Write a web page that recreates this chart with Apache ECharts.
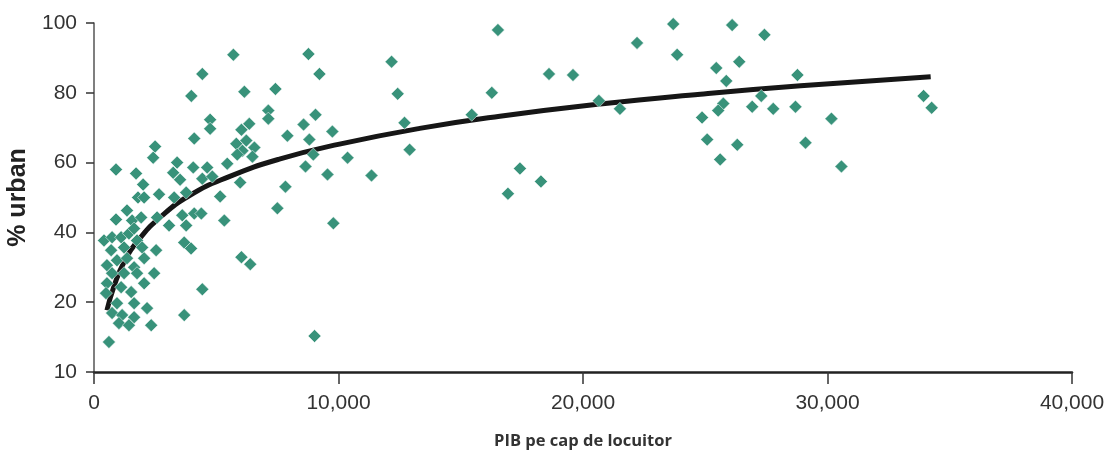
<!DOCTYPE html>
<html>
<head>
<meta charset="utf-8">
<script src="https://cdn.jsdelivr.net/npm/echarts@6/dist/echarts.min.js"></script>
<style>
html,body{margin:0;padding:0;background:#fff;}
#chart{width:1113px;height:452px;}
</style>
</head>
<body>
<div id="chart"></div>
<script>
// GDP per capita (x) and % urban (y) for each country point
const gdpValues = [
  2500,2420,900,1720,3400,3240,4060,3520,2010,1800,2050,2660,3280,3770,1350,900,1560,1930,2580,3070,
  3610,3770,410,740,1110,1430,1640,1760,700,1230,1970,2540,3690,3970,530,940,1350,1640,2050,740,
  1230,1760,2460,2050,530,1110,490,1520,940,1640,2170,740,1150,1640,1020,1430,2340,3690,610,3980,
  4100,
  5700,8770,4430,9220,6150,7420,7130,7130,4750,4750,6350,6030,9060,8570,9750,7910,8810,5820,6230,
  6560,6070,6480,5860,5450,4630,4430,4840,5980,7830,8650,9550,8970,10370,5160,7500,4100,4390,5330,
  9790,6030,6390,4430,9020,
  12170,12420,12700,12910,11350,16520,16270,15450,18610,19590,17420,18280,16930,20650,21510,22210,
  23690,26100,27420,23850,25450,26390,25860,28770,27290,25740,25530,26920,27780,28690,24870,30160,
  25080,26310,29100,25610,30570,33930,34260
];
const urbanValues = [
  64.6,61.4,58.0,56.9,60.0,57.1,58.6,55.1,53.7,50.0,50.0,50.9,50.0,51.4,46.3,43.7,43.4,44.3,44.3,42.0,
  44.9,42.0,37.7,38.6,38.6,39.7,41.1,37.7,34.9,35.7,35.7,34.9,37.1,35.4,30.6,32.0,32.6,30.0,32.6,28.3,
  28.3,28.3,28.3,25.4,25.4,24.3,22.6,22.9,19.7,19.7,18.3,16.9,16.3,15.7,14.0,13.4,13.4,16.3,8.6,79.1,
  66.9,
  90.9,91.1,85.4,85.4,80.3,81.1,74.9,72.6,72.3,69.7,71.1,69.4,73.7,70.9,68.9,67.7,66.6,65.4,66.3,
  64.3,63.4,61.7,62.3,59.7,58.6,55.4,56.0,54.3,53.1,58.9,56.6,62.3,61.4,50.3,46.9,45.4,45.4,43.4,
  42.6,32.9,30.9,23.7,10.3,
  88.9,79.7,71.4,63.7,56.3,98.0,80.0,73.7,85.4,85.1,58.3,54.6,51.1,77.7,75.4,94.3,
  99.7,99.4,96.6,90.9,87.1,88.9,83.4,85.1,79.1,76.9,74.9,76.0,75.4,76.0,72.9,72.6,
  66.6,65.1,65.7,60.9,58.9,79.1,75.7
];
// trend curve
const trendGdp   = [530,820,1230,1840,2660,3890,5530,7580,10040,13320,16600,20700,24800,28900,34220];
const trendUrban = [17.7,24.6,31.5,38.0,44.0,50.5,56.0,61.0,65.3,69.8,73.3,76.8,79.6,82.0,84.6];
// axis ticks
const xTicks = [0,10000,20000,30000,40000];
const yTicks = [0,20,40,60,80,100];
const yTickLabels = ['10','20','40','60','80','100'];

const scatterData = gdpValues.map((g,i)=>[g, urbanValues[i]]);
const trendData = trendGdp.map((g,i)=>[g, trendUrban[i]]);

const chart = echarts.init(document.getElementById('chart'), null, {renderer:'canvas'});
chart.setOption({
  animation:false,
  backgroundColor:'#fff',
  grid:{left:94, right:41, top:23, bottom:80, containLabel:false, outerBoundsMode:'none'},
  xAxis:{
    type:'value', min:xTicks[0], max:xTicks[xTicks.length-1], interval:10000,
    name:'PIB pe cap de locuitor', nameLocation:'middle', nameGap:61,
    nameTextStyle:{fontFamily:'Open Sans', fontWeight:'bold', fontSize:16.5, color:'#333'},
    axisLine:{show:true, onZero:false, lineStyle:{color:'#222', width:2.5}},
    axisTick:{show:true, length:12, lineStyle:{color:'#333', width:1.5}},
    axisLabel:{fontFamily:'Liberation Sans', fontSize:21, color:'#333', margin:21,
      formatter:v=>v.toLocaleString('en-US')},
    splitLine:{show:false}
  },
  yAxis:{
    type:'value', min:yTicks[0], max:yTicks[yTicks.length-1], interval:20,
    name:'% urban', nameLocation:'middle', nameGap:59, nameRotate:90,
    nameTextStyle:{fontFamily:'Liberation Sans', fontWeight:'bold', fontSize:25, color:'#222'},
    axisLine:{show:true, onZero:false, lineStyle:{color:'#555', width:1.5}},
    axisTick:{show:true, length:8, lineStyle:{color:'#333', width:1.5}},
    axisLabel:{fontFamily:'Liberation Sans', fontSize:21, color:'#333', margin:17,
      formatter:v=>{const i=yTicks.indexOf(v); return i>=0?yTickLabels[i]:'';}},
    splitLine:{show:false}
  },
  series:[
    {
      type:'line', data:trendData, smooth:true, showSymbol:false, symbol:'none',
      lineStyle:{color:'#161616', width:5}, z:2, silent:true
    },
    {
      type:'scatter', data:scatterData, symbol:'diamond', symbolSize:13,
      itemStyle:{color:'#38927a', borderColor:'#ffffff', borderWidth:0.5, opacity:1}, z:3
    }
  ]
});
</script>
</body>
</html>
